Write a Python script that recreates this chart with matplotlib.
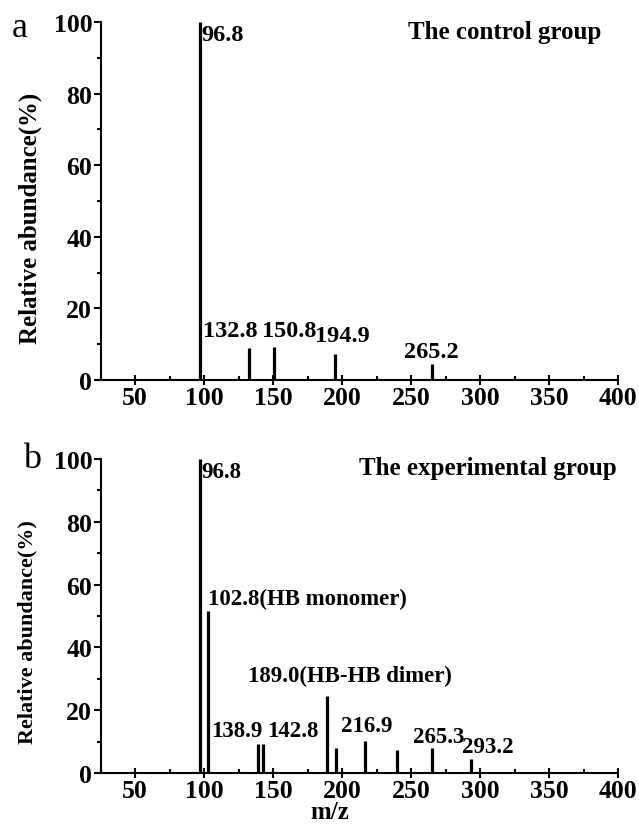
import matplotlib
matplotlib.use("Agg")
import matplotlib.pyplot as plt
from matplotlib.ticker import MultipleLocator

plt.rcParams['font.family'] = ['Liberation Serif', 'DejaVu Serif']

# Panel a: control group
mz_a = [96.8, 132.8, 150.8, 194.9, 265.2]
ab_a = [100.0, 8.9, 9.1, 7.3, 4.5]
lab_a = ["96.8", "132.8", "150.8", "194.9", "265.2"]

# Panel b: experimental group
mz_b = [96.8, 102.8, 138.9, 142.8, 189.0, 195.5, 216.9, 239.5, 265.3, 293.2]
ab_b = [100.0, 51.6, 9.2, 9.2, 24.5, 8.0, 10.2, 7.3, 8.0, 4.5]
lab_b = ["96.8", "102.8(HB monomer)", "138.9", "142.8", "189.0(HB-HB dimer)",
         "", "216.9", "", "265.3", "293.2"]

titles = ["The control group", "The experimental group"]
panel_letters = ["a", "b"]
x_ticks = [50, 100, 150, 200, 250, 300, 350, 400]
y_ticks = [0, 20, 40, 60, 80, 100]

# label placement (layout only): (x, y, ha, va)
pos_a = [(98.3, 99.5, 'left', 'top'), (118.8, 10.9, 'center', 'bottom'),
         (162.0, 10.9, 'center', 'bottom'), (199.9, 9.5, 'center', 'bottom'),
         (264.3, 5.0, 'center', 'bottom')]
pos_b = [(98.3, 99.5, 'left', 'top'), (102.8, 52.2, 'left', 'bottom'),
         (123.9, 10.2, 'center', 'bottom'), (164.4, 10.2, 'center', 'bottom'),
         (205.7, 27.7, 'center', 'bottom'), None,
         (218.0, 11.8, 'center', 'bottom'), None,
         (270.1, 8.3, 'center', 'bottom'), (305.6, 5.1, 'center', 'bottom')]

W, H = 639, 829
fig = plt.figure(figsize=(W / 100, H / 100), dpi=100)

left = 100.5 / W
width = (618.3 - 100.5) / W
ax_a = fig.add_axes([left, 1 - 381 / H, width, (381 - 23) / H])
ax_b = fig.add_axes([left, 1 - 774 / H, width, (774 - 460) / H])

cfg = {
    'a': dict(ax=ax_a, mz=mz_a, ab=ab_a, labs=lab_a, pos=pos_a, title=titles[0],
              title_x=318, peak_fs=17.5, ylab_w='bold', ylab_fs=17.9,
              ylab_xy=(-0.113, (381 - 218) / 358)),
    'b': dict(ax=ax_b, mz=mz_b, ab=ab_b, labs=lab_b, pos=pos_b, title=titles[1],
              title_x=305.6, peak_fs=16.5, ylab_w='bold', ylab_fs=15.9,
              ylab_xy=(-0.121, (774 - 632) / 314)),
}

tick_fs = 18.5
for key, c in cfg.items():
    ax = c['ax']
    ax.vlines(c['mz'], 0, c['ab'], colors='black', linewidth=2.3)
    ax.set_xlim(25, 400)
    ax.set_ylim(0, 100)
    ax.spines['top'].set_visible(False)
    ax.spines['right'].set_visible(False)
    for s in ['left', 'bottom']:
        ax.spines[s].set_linewidth(1.5)
    ax.set_xticks(x_ticks)
    ax.set_yticks(y_ticks)
    ax.xaxis.set_minor_locator(MultipleLocator(25))
    ax.yaxis.set_minor_locator(MultipleLocator(10))
    ax.tick_params(axis='x', which='major', direction='inout', length=7, width=1.5,
                   labelsize=tick_fs, pad=1)
    ax.tick_params(axis='x', which='minor', direction='in', length=3, width=1.5)
    ax.tick_params(axis='y', which='major', direction='out', length=5, width=1.5,
                   labelsize=tick_fs, pad=1)
    ax.tick_params(axis='y', which='minor', direction='out', length=3, width=1.5)
    for t in ax.get_xticklabels() + ax.get_yticklabels():
        t.set_fontweight('bold')
    ax.set_ylabel("Relative abundance(%)", fontsize=c['ylab_fs'], fontweight=c['ylab_w'])
    ax.yaxis.set_label_coords(*c['ylab_xy'])
    for lab, p in zip(c['labs'], c['pos']):
        if p is None or not lab:
            continue
        ax.text(p[0], p[1], lab, ha=p[2], va=p[3], fontsize=c['peak_fs'],
                fontweight='bold')
    ax.text(c['title_x'], 97.3, c['title'], ha='center', va='center',
            fontsize=18, fontweight='bold')

ax_b.set_xlabel("m/z", fontsize=18, fontweight='bold')
ax_b.xaxis.set_label_coords((330 - 100.5) / (618.3 - 100.5), -0.085)

fig.text(12 / W, 1 - 37 / H, panel_letters[0], fontsize=26, ha='left', va='baseline')
fig.text(23 / W, 1 - 468 / H, panel_letters[1], fontsize=26, ha='left', va='baseline')

fig.savefig("out.png", dpi=100)
